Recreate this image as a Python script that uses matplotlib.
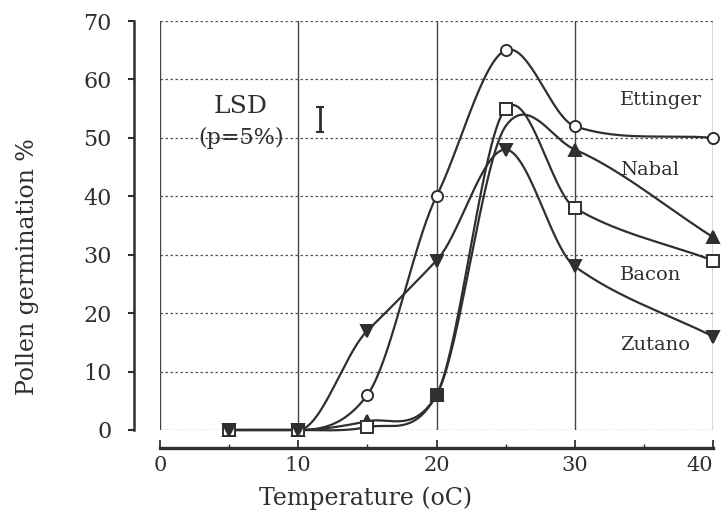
import numpy as np
import matplotlib
matplotlib.use("Agg")
import matplotlib.pyplot as plt

# readings
temp = [5, 10, 15, 20, 25, 30, 40]
ettinger = [0, 0, 6, 40, 65, 52, 50]
nabal = [0, 0, 1.5, 6, 52, 48, 33]
bacon = [0, 0, 0.5, 6, 55, 38, 29]
zutano = [0, 0, 17, 29, 48, 28, 16]

label_names = ['Ettinger', 'Nabal', 'Bacon', 'Zutano']
label_y = [56.5, 44.5, 26.5, 14.6]

lsd_x = 11.6
lsd_center = 53.1
lsd_half = 2.15

ink = '#2f2f2f'
plt.rcParams['font.family'] = ['DejaVu Serif']


def smooth(x, y, n=40, tension=0.8):
    # cubic hermite through the points, just for drawing the curved lines
    x = np.asarray(x, float)
    y = np.asarray(y, float)
    d = np.diff(y) / np.diff(x)
    m = np.zeros_like(y)
    m[1:-1] = (y[2:] - y[:-2]) / (x[2:] - x[:-2]) * tension
    m[0] = d[0]
    m[-1] = d[-1]
    # keep flat stretches flat (no dip below zero)
    for i in range(1, len(x) - 1):
        if d[i - 1] == 0 or d[i] == 0:
            m[i] = 0
    xs, ys = [], []
    for i in range(len(x) - 1):
        h = x[i + 1] - x[i]
        t = np.linspace(0, 1, n)
        h00 = 2 * t**3 - 3 * t**2 + 1
        h10 = t**3 - 2 * t**2 + t
        h01 = -2 * t**3 + 3 * t**2
        h11 = t**3 - t**2
        xs.append(x[i] + t * h)
        ys.append(h00 * y[i] + h10 * h * m[i] + h01 * y[i + 1] + h11 * h * m[i + 1])
    return np.concatenate(xs), np.concatenate(ys)


fig = plt.figure(figsize=(7.21, 5.27), dpi=100)
ax = fig.add_axes([160 / 721, 1 - 430 / 527, 553 / 721, 409 / 527])

# grid: dashed horizontals, solid verticals
for yv in range(0, 71, 10):
    ax.axhline(yv, color='#555555', lw=0.9, ls=(0, (2, 2)), zorder=1)
for xv in range(0, 41, 10):
    ax.axvline(xv, color='#444444', lw=1.0, zorder=1)

series = [
    (ettinger, 'o', 'white', None),
    (nabal, '^', ink, [0, 1, 2, 3, 5, 6]),
    (bacon, 's', 'white', None),
    (zutano, 'v', ink, None),
]
for vals, mk, fc, every in series:
    sx, sy = smooth(temp, vals)
    ax.plot(sx, sy, color=ink, lw=1.6, zorder=2, clip_on=False)
    ax.plot(temp, vals, ls='none', marker=mk, ms=8, mfc=fc, mec=ink, mew=1.4,
            markevery=every, zorder=3, clip_on=False)

# filled square at 20 C seen in the scan
ax.plot([20], [bacon[3]], ls='none', marker='s', ms=7, color=ink, zorder=4)

for name, yl in zip(label_names, label_y):
    ax.text(33.3, yl, name, fontsize=14, color=ink, va='center', ha='left')

ax.text(5.86, 55.3, 'LSD', fontsize=18, color=ink, ha='center', va='center')
ax.text(5.86, 50.0, '(p=5%)', fontsize=16, color=ink, ha='center', va='center')
ax.errorbar([lsd_x], [lsd_center], yerr=[lsd_half], color=ink, capsize=3,
            elinewidth=2, capthick=1.5)

ax.set_xlim(0, 40)
ax.set_ylim(0, 70)
ax.set_xticks([0, 10, 20, 30, 40])
ax.set_xticks([5, 15, 25, 35], minor=True)
ax.set_yticks(range(0, 71, 10))

ax.spines['top'].set_visible(False)
ax.spines['right'].set_visible(False)
ax.spines['left'].set_position(('outward', 19))
ax.spines['bottom'].set_position(('outward', 13))
ax.spines['left'].set_linewidth(1.8)
ax.spines['bottom'].set_linewidth(2.4)
ax.spines['left'].set_color(ink)
ax.spines['bottom'].set_color(ink)

ax.tick_params(axis='y', direction='out', length=4, width=1.5, pad=12,
               labelsize=16, colors=ink)
ax.tick_params(axis='x', which='major', direction='in', length=6, width=1.3,
               pad=6, labelsize=15, colors=ink)
ax.tick_params(axis='x', which='minor', direction='in', length=3, width=1, colors=ink)

ax.set_xlabel('Temperature (oC)', fontsize=17, color=ink)
ax.set_ylabel('Pollen germination %', fontsize=17, color=ink)
ax.xaxis.set_label_coords(0.371, -0.166)
ax.xaxis.label.set_va('center')
ax.yaxis.set_label_coords(-0.239, 0.40)
ax.yaxis.label.set_va('center')

# last tick label sits at the right edge of the picture
fig.canvas.draw()
ax.xaxis.get_major_ticks()[-1].label1.set_ha('right')

fig.savefig('out.png', dpi=100)
